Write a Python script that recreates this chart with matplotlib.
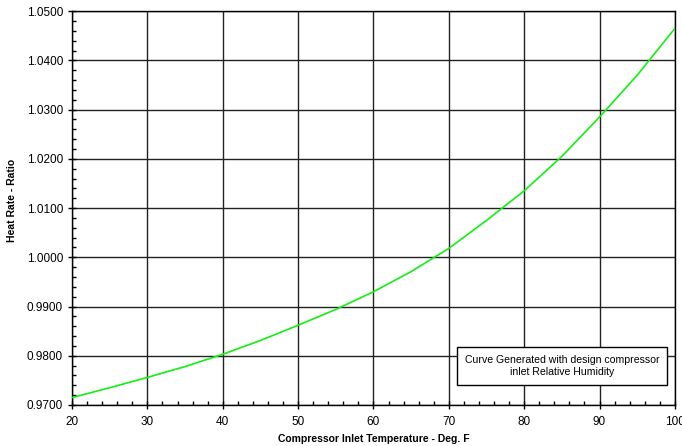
import matplotlib
matplotlib.use("Agg")
import matplotlib.pyplot as plt
import numpy as np
from matplotlib.ticker import MultipleLocator

plt.rcParams['font.family'] = ['Liberation Sans', 'DejaVu Sans']

# heat rate ratio vs compressor inlet temperature
temp_f = [20, 25, 30, 35, 40, 45, 50, 55, 60, 65, 70, 75, 80, 85, 90, 95, 100]
heat_rate = [0.9715, 0.9735, 0.9756, 0.9778, 0.9803, 0.9831, 0.9862, 0.9894,
             0.9930, 0.9971, 1.0018, 1.0075, 1.0135, 1.0205, 1.0285, 1.0370, 1.0465]

fig = plt.figure(figsize=(6.82, 4.46), dpi=100)
ax = fig.add_axes([0.1056, 0.092, 0.884, 0.883])

ax.plot(temp_f, heat_rate, color="#11f011", linewidth=1.2, zorder=3)

ax.set_xlim(20, 100)
ax.set_ylim(0.97, 1.05)
ax.xaxis.set_major_locator(MultipleLocator(10))
ax.xaxis.set_minor_locator(MultipleLocator(2))
ax.yaxis.set_major_locator(MultipleLocator(0.01))
ax.yaxis.set_minor_locator(MultipleLocator(0.002))
ax.yaxis.set_major_formatter(lambda v, p: "%.4f" % v)

ax.grid(which="major", color="#222222", linewidth=1.0)
ax.tick_params(which="major", direction="inout", length=6, width=1, labelsize=8.5, colors="black")
ax.tick_params(axis="x", which="major", pad=5)
ax.tick_params(which="minor", direction="in", length=3, width=1)
for s in ax.spines.values():
    s.set_linewidth(1.0)

ax.set_xlabel("Compressor Inlet Temperature - Deg. F", fontsize=7.5, fontweight="bold", labelpad=4)
ax.set_ylabel("Heat Rate - Ratio", fontsize=7.5, fontweight="bold")
ax.yaxis.set_label_coords(-0.091, 0.52)

ax.text(0.8126, 0.099, "Curve Generated with design compressor\ninlet Relative Humidity",
        transform=ax.transAxes, ha="center", va="center", fontsize=7.6, linespacing=1.3,
        bbox=dict(boxstyle="square,pad=0.75", facecolor="white", edgecolor="black", linewidth=1),
        zorder=5)

fig.savefig("out.png", dpi=100)
